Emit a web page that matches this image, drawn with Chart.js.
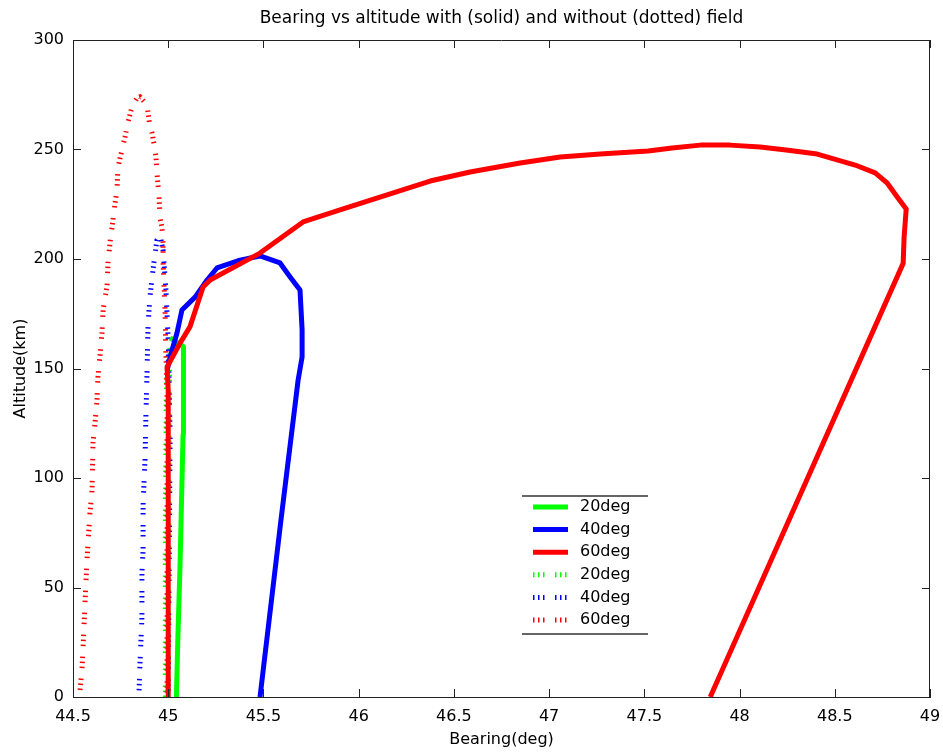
<!DOCTYPE html>
<html lang="en">
<head>
    <meta charset="UTF-8">
    <title>Bearing vs altitude</title>
    <script src="https://cdn.jsdelivr.net/npm/chart.js"></script>
    <style>
        body { margin: 0; background: #fff; }
    </style>
</head>
<body>
<canvas id="rayChart" width="943" height="752"></canvas>

<script>
    // solid = with field, dotted = without field
    var solid20Bearing = [45.043, 45.05, 45.062, 45.07, 45.078, 45.08, 45.01];
    var solid20Alt     = [0, 25, 60, 90, 120, 160, 164];

    var solid40Bearing = [45.482, 45.592, 45.682, 45.703, 45.703, 45.692, 45.64, 45.587, 45.482, 45.377, 45.256, 45.204, 45.141, 45.072, 45.046, 45.02, 44.994];
    var solid40Alt     = [0, 80.8, 144.7, 155.3, 167.6, 185.8, 191.8, 198.2, 201.4, 199.5, 195.9, 190.4, 182.6, 176.7, 166.2, 158.4, 149.3];

    var solid60Bearing = [47.846, 48.859, 48.864, 48.875, 48.828, 48.775, 48.712, 48.607, 48.408, 48.245, 48.108, 47.95, 47.793, 47.646, 47.52, 47.268, 47.058, 46.848, 46.585, 46.375, 46.112, 45.902, 45.708, 45.482, 45.22, 45.183, 45.114, 45.062, 44.994, 45.0, 45.0];
    var solid60Alt     = [0, 198, 210, 222.8, 228.3, 234.7, 239.3, 242.9, 247.9, 249.8, 251.1, 252, 252, 250.7, 249.3, 248, 246.6, 243.8, 239.7, 235.6, 228.3, 222.4, 216.9, 202.7, 190.4, 187.2, 169, 161.6, 150.7, 140, 0];

    var dotted20Bearing = [44.985, 44.985, 44.99, 45.0, 45.01, 45.005, 45.0];
    var dotted20Alt     = [0, 80, 140, 160, 158, 140, 0];

    var dotted40Bearing = [44.847, 44.852, 44.862, 44.862, 44.868, 44.868, 44.878, 44.883, 44.889, 44.894, 44.904, 44.915, 44.931, 44.941, 44.957, 44.973, 44.988, 45.0, 45.01, 45.0];
    var dotted40Alt     = [3, 16, 36.5, 56.6, 67.1, 87.7, 108.2, 128.8, 149.3, 169.9, 182.6, 191.3, 202.7, 208.7, 211, 204, 186, 163, 120, 0];

    var dotted60Bearing = [44.537, 44.547, 44.553, 44.563, 44.574, 44.589, 44.6, 44.605, 44.616, 44.626, 44.631, 44.642, 44.652, 44.658, 44.679, 44.684, 44.694, 44.705, 44.721, 44.731, 44.736, 44.747, 44.763, 44.773, 44.789, 44.81, 44.836, 44.852,
                           44.889, 44.894, 44.904, 44.915, 44.931, 44.936, 44.941, 44.952, 44.957, 44.967, 44.973, 44.973, 44.978, 44.983, 44.988, 44.994, 44.994, 44.994];
    var dotted60Alt     = [3.2, 12.3, 22.8, 42.9, 63.5, 84, 94.5, 116, 125.6, 135.6, 146.1, 156.2, 166.2, 176.7, 188.1, 198.2, 207.3, 214.6, 225.6, 231.5, 241.6, 246.1, 252, 255.7, 262.6, 269.4, 273.5, 274,
                           270.3, 266.7, 260.3, 257.5, 249.8, 246.1, 239.3, 228.3, 218.7, 214.6, 207.3, 198.2, 188.1, 176.7, 157.1, 135.6, 92.2, 0];

    var xTicks = { min: 44.5, max: 49, step: 0.5 };
    var yTicks = { min: 0, max: 300, step: 50 };

    var GREEN = '#00ff00', BLUE = '#0000ff', RED = '#ff0000';
    var DOTS = [1.5, 3.5, 1.5, 3.5, 1.5, 10.5];

    function pts(xs, ys) {
        return xs.map(function (x, i) { return { x: x, y: ys[i] }; });
    }

    function line(label, xs, ys, color, dotted, order) {
        return {
            label: label,
            data: pts(xs, ys),
            borderColor: color,
            backgroundColor: color,
            borderWidth: 5,
            borderDash: dotted ? DOTS : [],
            borderCapStyle: 'butt',
            borderJoinStyle: dotted ? 'miter' : 'round',
            showLine: true,
            pointRadius: 0,
            tension: 0,
            fill: false,
            order: order
        };
    }

    // MATLAB style box: top/right edges plus inward ticks on all four sides
    var framePlugin = {
        id: 'frame',
        afterDatasetsDraw: function (chart) {
            var ctx = chart.ctx, a = chart.chartArea, xs = chart.scales.x, ys = chart.scales.y;
            ctx.save();
            ctx.strokeStyle = '#222';
            ctx.lineWidth = 1;
            ctx.beginPath();
            ctx.moveTo(a.left, a.top + 0.5); ctx.lineTo(a.right, a.top + 0.5);
            ctx.moveTo(a.right - 0.5, a.top); ctx.lineTo(a.right - 0.5, a.bottom);
            xs.ticks.forEach(function (t) {
                var p = Math.round(xs.getPixelForValue(t.value)) + 0.5;
                ctx.moveTo(p, a.bottom); ctx.lineTo(p, a.bottom - 8);
                ctx.moveTo(p, a.top); ctx.lineTo(p, a.top + 8);
            });
            ys.ticks.forEach(function (t) {
                var p = Math.round(ys.getPixelForValue(t.value)) + 0.5;
                ctx.moveTo(a.left, p); ctx.lineTo(a.left + 8, p);
                ctx.moveTo(a.right, p); ctx.lineTo(a.right - 8, p);
            });
            ctx.stroke();
            ctx.restore();
        }
    };

    // legend box inside the axes, lower middle
    var legendPlugin = {
        id: 'boxLegend',
        afterDraw: function (chart) {
            var ctx = chart.ctx;
            var left = 522, right = 648, top = 496, bottom = 634;
            ctx.save();
            ctx.fillStyle = '#fff';
            ctx.fillRect(left, top, right - left, bottom - top);
            ctx.strokeStyle = '#333';
            ctx.lineWidth = 1.5;
            ctx.beginPath();
            ctx.moveTo(left, top); ctx.lineTo(right, top);
            ctx.moveTo(left, bottom); ctx.lineTo(right, bottom);
            ctx.stroke();
            ctx.font = '16px "DejaVu Sans"';
            ctx.textBaseline = 'middle';
            chart.data.datasets.forEach(function (ds, i) {
                var yy = 507 + i * 22.6;
                ctx.beginPath();
                ctx.strokeStyle = ds.borderColor;
                ctx.lineWidth = 5;
                ctx.lineCap = 'butt';
                ctx.setLineDash(ds.borderDash);
                ctx.moveTo(533, yy); ctx.lineTo(568, yy);
                ctx.stroke();
                ctx.setLineDash([]);
                ctx.fillStyle = '#000';
                ctx.fillText(ds.label, 580, yy);
            });
            ctx.restore();
        }
    };

    Chart.defaults.font.family = '"DejaVu Sans", sans-serif';
    Chart.defaults.font.size = 16;
    Chart.defaults.color = '#000';

    function plainNum(v) {
        return String(Number(Number(v).toFixed(2)));
    }

    var ctx = document.getElementById('rayChart').getContext('2d');
    var chart = new Chart(ctx, {
        type: 'scatter',
        data: {
            datasets: [
                line('20deg', solid20Bearing, solid20Alt, GREEN, false, 2),
                line('40deg', solid40Bearing, solid40Alt, BLUE, false, 1),
                line('60deg', solid60Bearing, solid60Alt, RED, false, 0),
                line('20deg', dotted20Bearing, dotted20Alt, GREEN, true, 5),
                line('40deg', dotted40Bearing, dotted40Alt, BLUE, true, 4),
                line('60deg', dotted60Bearing, dotted60Alt, RED, true, 3)
            ]
        },
        options: {
            responsive: false,
            animation: false,
            layout: { padding: { left: 0, right: 13, top: 0, bottom: 0 } },
            plugins: {
                legend: { display: false },
                tooltip: { enabled: false },
                title: {
                    display: true,
                    text: 'Bearing vs altitude with (solid) and without (dotted) field',
                    fullSize: false,
                    font: { size: 17, weight: 'normal' },
                    color: '#000',
                    padding: { top: 8, bottom: 11.6 }
                }
            },
            scales: {
                x: {
                    type: 'linear',
                    min: xTicks.min,
                    max: xTicks.max,
                    grid: { display: false, drawTicks: false },
                    border: { display: true, color: '#222', width: 1 },
                    ticks: { stepSize: xTicks.step, padding: 10, maxRotation: 0, autoSkip: false, callback: plainNum },
                    title: { display: true, text: 'Bearing(deg)', padding: { top: 0, bottom: 3 } },
                    afterFit: function (s) { s.height = 55; s.paddingLeft = 0; s.paddingRight = 0; }
                },
                y: {
                    type: 'linear',
                    min: yTicks.min,
                    max: yTicks.max,
                    grid: { display: false, drawTicks: false },
                    border: { display: true, color: '#222', width: 1 },
                    ticks: { stepSize: yTicks.step, padding: 9, callback: plainNum },
                    title: { display: true, text: 'Altitude(km)', padding: { top: 11, bottom: 0 } },
                    afterFit: function (s) { s.width = 73; }
                }
            }
        },
        plugins: [framePlugin, legendPlugin]
    });
</script>
</body>
</html>
